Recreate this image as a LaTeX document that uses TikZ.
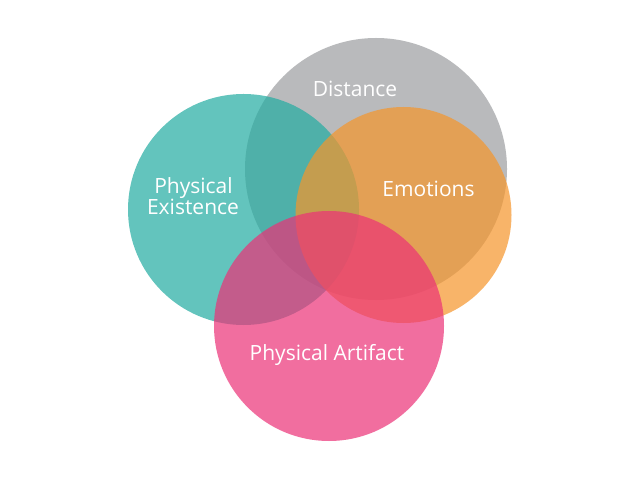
\documentclass[tikz,border=0pt]{standalone}
\usepackage{fontspec}
\setmainfont{Open Sans}
\definecolor{cgray}{HTML}{B9BABC}
\definecolor{cteal}{HTML}{22ACA1}
\definecolor{corange}{HTML}{F6952A}
\definecolor{cpink}{HTML}{EC3177}
\begin{document}
\begin{tikzpicture}[x=1bp,y=-1bp,
  blob/.style={circle,inner sep=0pt,outer sep=0pt,draw=none},
  soft/.style={blob,fill opacity=0.7},
  lbl/.style={text=white,anchor=base,inner sep=0pt,font=\fontsize{21bp}{21bp}\selectfont}]
\useasboundingbox (0,0) rectangle (640,480);
\fill[white] (0,0) rectangle (640,480);
\node[blob,fill=cgray,minimum size=262bp] (gray) at (376,169) {};
\node[soft,fill=cteal,minimum size=231bp] (teal) at (243.5,209.5) {};
\node[soft,fill=corange,minimum size=216bp] (orange) at (403.5,215) {};
\node[soft,fill=cpink,minimum size=230bp] (pink) at (329,326) {};
\node[lbl] (distance) at (355,97) {Distance};
\node[lbl] (emotions) at (428.5,197) {Emotions};
\node[lbl] (phys1) at (193.5,194) {Physical};
\node[lbl] (phys2) at (193,215) {Existence};
\node[lbl] (artifact) at (327,360) {Physical Artifact};
\end{tikzpicture}
\end{document}
